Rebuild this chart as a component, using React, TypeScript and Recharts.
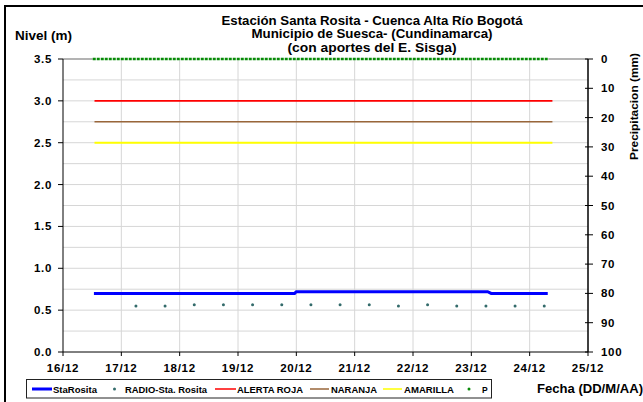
import React from 'react';
import { ComposedChart, Line, XAxis, YAxis, CartesianGrid, ReferenceLine } from 'recharts';

const FONT = '"Liberation Sans", Arial, Helvetica, sans-serif';

// ---- axis ticks / labels
const xTicks = [16, 17, 18, 19, 20, 21, 22, 23, 24, 25];
const xTickLabels = ['16/12', '17/12', '18/12', '19/12', '20/12', '21/12', '22/12', '23/12', '24/12', '25/12'];
const levelTicks = [0, 0.5, 1, 1.5, 2, 2.5, 3, 3.5];
const levelTickLabels = ['0.0', '0.5', '1.0', '1.5', '2.0', '2.5', '3.0', '3.5'];
const precipTicks = [0, 10, 20, 30, 40, 50, 60, 70, 80, 90, 100];
const gridLevels = [0.25, 0.5, 0.75, 1, 1.25, 1.5, 1.75, 2, 2.25, 2.5, 2.75, 3, 3.25];
const gridDays = [17, 18, 19, 20, 21, 22, 23, 24];

// ---- series (x = day of December, fractional)
const staRositaX = [16.53, 19.97, 20.0, 23.28, 23.34, 24.31];
const staRositaY = [0.7, 0.7, 0.72, 0.72, 0.7, 0.7];

const radioX = [17.25, 17.75, 18.25, 18.75, 19.25, 19.75, 20.25, 20.75, 21.25, 21.75, 22.25, 22.75, 23.25, 23.75, 24.25];
const radioY = [0.55, 0.55, 0.565, 0.565, 0.565, 0.565, 0.565, 0.565, 0.565, 0.55, 0.565, 0.55, 0.55, 0.55, 0.55];

const alertX = [16.54, 24.39];
const alertaRojaY = [3.0, 3.0];
const naranjaY = [2.75, 2.75];
const amarillaY = [2.5, 2.5];

const pX = [16.51, 24.32];
const pY = [0, 0];

const zip = (xs: number[], ys: number[]) => xs.map((x, i) => ({ x, y: ys[i] }));

const staRositaData = zip(staRositaX, staRositaY);
const radioData = zip(radioX, radioY);
const rojaData = zip(alertX, alertaRojaY);
const naranjaData = zip(alertX, naranjaY);
const amarillaData = zip(alertX, amarillaY);
const pData = zip(pX, pY);

const tickText = { fontFamily: FONT, fontWeight: 'bold' as const, fontSize: 11.5, fill: '#000', letterSpacing: 0.7 };

const XTick = (props: any) => {
  const { x, y, payload } = props;
  const i = xTicks.indexOf(payload.value);
  return (
    <text x={x} y={y + 10} textAnchor="middle" style={tickText}>
      {i >= 0 ? xTickLabels[i] : String(payload.value)}
    </text>
  );
};

const LeftTick = (props: any) => {
  const { x, y, payload } = props;
  const i = levelTicks.indexOf(payload.value);
  return (
    <text x={x} y={y + 4} textAnchor="end" style={tickText}>
      {i >= 0 ? levelTickLabels[i] : String(payload.value)}
    </text>
  );
};

const RightTick = (props: any) => {
  const { x, y, payload } = props;
  return (
    <g>
      <line x1={x - 3} x2={x + 5} y1={y} y2={y} stroke="#000" strokeWidth={1} />
      <text x={x + 13} y={y + 4} textAnchor="start" style={tickText}>
        {String(payload.value)}
      </text>
    </g>
  );
};

const legendFont = { fontFamily: FONT, fontWeight: 'bold' as const, fontSize: 8.5, fill: '#000' };

export default function App() {
  return (
    <div style={{ position: 'absolute', left: 0, top: 0, width: 643, height: 402, background: '#fff', overflow: 'hidden' }}>
      <ComposedChart width={643} height={402} margin={{ top: 59, right: 0, bottom: 20, left: 0 }}>
        <CartesianGrid
          xAxisId="x"
          yAxisId="left"
          horizontalValues={gridLevels}
          verticalValues={gridDays}
          stroke="#d6d6d6"
          strokeWidth={1}
        />
        <XAxis
          xAxisId="x"
          dataKey="x"
          type="number"
          domain={[16, 25]}
          ticks={xTicks}
          interval={0}
          height={30}
          axisLine={{ stroke: '#000', strokeWidth: 1 }}
          tickLine={{ stroke: '#000', strokeWidth: 1 }}
          tickSize={4}
          tickMargin={6}
          tick={<XTick />}
        />
        <YAxis
          yAxisId="left"
          type="number"
          domain={[0, 3.5]}
          ticks={levelTicks}
          interval={0}
          width={63}
          axisLine={{ stroke: '#000', strokeWidth: 1 }}
          tickLine={{ stroke: '#000', strokeWidth: 1 }}
          tickSize={5}
          tickMargin={6}
          tick={<LeftTick />}
        />
        <YAxis
          yAxisId="right"
          orientation="right"
          type="number"
          domain={[0, 100]}
          reversed
          ticks={precipTicks}
          interval={0}
          width={55}
          axisLine={{ stroke: '#000', strokeWidth: 1.5 }}
          tickLine={false}
          tickSize={0}
          tickMargin={0}
          tick={<RightTick />}
        />
        <ReferenceLine
          xAxisId="x"
          yAxisId="left"
          segment={[{ x: 16, y: 3.5 }, { x: pX[0], y: 3.5 }]}
          stroke="#9a9a9a"
          strokeWidth={1.5}
        />
        <ReferenceLine
          xAxisId="x"
          yAxisId="left"
          segment={[{ x: pX[1], y: 3.5 }, { x: 25, y: 3.5 }]}
          stroke="#9a9a9a"
          strokeWidth={1.5}
        />
        <Line xAxisId="x" yAxisId="right" data={pData} dataKey="y" stroke="#078a07" strokeWidth={2.5} strokeDasharray="3 1" dot={false} isAnimationActive={false} />
        <Line xAxisId="x" yAxisId="left" data={amarillaData} dataKey="y" stroke="#ffff00" strokeWidth={2} dot={false} isAnimationActive={false} />
        <Line xAxisId="x" yAxisId="left" data={naranjaData} dataKey="y" stroke="#99663a" strokeWidth={1.6} dot={false} isAnimationActive={false} />
        <Line xAxisId="x" yAxisId="left" data={rojaData} dataKey="y" stroke="#ff0000" strokeWidth={1.7} dot={false} isAnimationActive={false} />
        <Line xAxisId="x" yAxisId="left" data={staRositaData} dataKey="y" stroke="#0000ff" strokeWidth={3} dot={false} isAnimationActive={false} />
        <Line
          xAxisId="x"
          yAxisId="left"
          data={radioData}
          dataKey="y"
          stroke="none"
          dot={{ r: 1.5, fill: '#336b6b', stroke: 'none' }}
          isAnimationActive={false}
        />
      </ComposedChart>
      <svg width={643} height={402} style={{ position: 'absolute', left: 0, top: 0, pointerEvents: 'none' }}>
        {/* outer frame */}
        <line x1={5} x2={643} y1={6} y2={6} stroke="#000" strokeWidth={2} />
        <line x1={5} x2={5} y1={5} y2={402} stroke="#000" strokeWidth={2} />
        {/* title */}
        <g style={{ fontFamily: FONT, fontWeight: 'bold', fontSize: 12, fill: '#000' }}>
          <text x={372} y={24.5} textAnchor="middle" textLength={301} lengthAdjust="spacingAndGlyphs">Estación Santa Rosita - Cuenca Alta Río Bogotá</text>
          <text x={372} y={38} textAnchor="middle" textLength={241} lengthAdjust="spacingAndGlyphs">Municipio de Suesca- (Cundinamarca)</text>
          <text x={372} y={51.5} textAnchor="middle" textLength={169} lengthAdjust="spacingAndGlyphs">(con aportes del  E. Sisga)</text>
          <text x={15} y={40} textLength={57} lengthAdjust="spacingAndGlyphs">Nivel (m)</text>
          <text x={537} y={393} textLength={106} lengthAdjust="spacingAndGlyphs">Fecha (DD/M/AA)</text>
          <text transform="translate(638 106.5) rotate(-90)" textAnchor="middle" style={{ fontSize: 11.5 }} textLength={107} lengthAdjust="spacingAndGlyphs">Precipitacion (mm)</text>
        </g>
        {/* legend */}
        <rect x={26.5} y={379.5} width={465} height={18.5} fill="#fff" stroke="#222" strokeWidth={1} />
        <line x1={32} x2={52} y1={389} y2={389} stroke="#0000ff" strokeWidth={3} />
        <text x={53} y={392.5} style={legendFont} textLength={44} lengthAdjust="spacingAndGlyphs">StaRosita</text>
        <circle cx={114.5} cy={389} r={1.5} fill="#336b6b" />
        <text x={125} y={392.5} style={legendFont} textLength={82} lengthAdjust="spacingAndGlyphs">RADIO-Sta. Rosita</text>
        <line x1={215} x2={236} y1={389} y2={389} stroke="#ff0000" strokeWidth={1.5} />
        <text x={237} y={392.5} style={legendFont} textLength={66} lengthAdjust="spacingAndGlyphs">ALERTA ROJA</text>
        <line x1={310} x2={329} y1={389} y2={389} stroke="#99663a" strokeWidth={1.5} />
        <text x={331} y={392.5} style={legendFont} textLength={46} lengthAdjust="spacingAndGlyphs">NARANJA</text>
        <line x1={383} x2={402} y1={389} y2={389} stroke="#ffff00" strokeWidth={1.5} />
        <text x={404} y={392.5} style={legendFont} textLength={50} lengthAdjust="spacingAndGlyphs">AMARILLA</text>
        <circle cx={469} cy={389} r={1.5} fill="#0a8a0a" />
        <text x={482} y={392.5} style={legendFont}>P</text>
      </svg>
    </div>
  );
}
